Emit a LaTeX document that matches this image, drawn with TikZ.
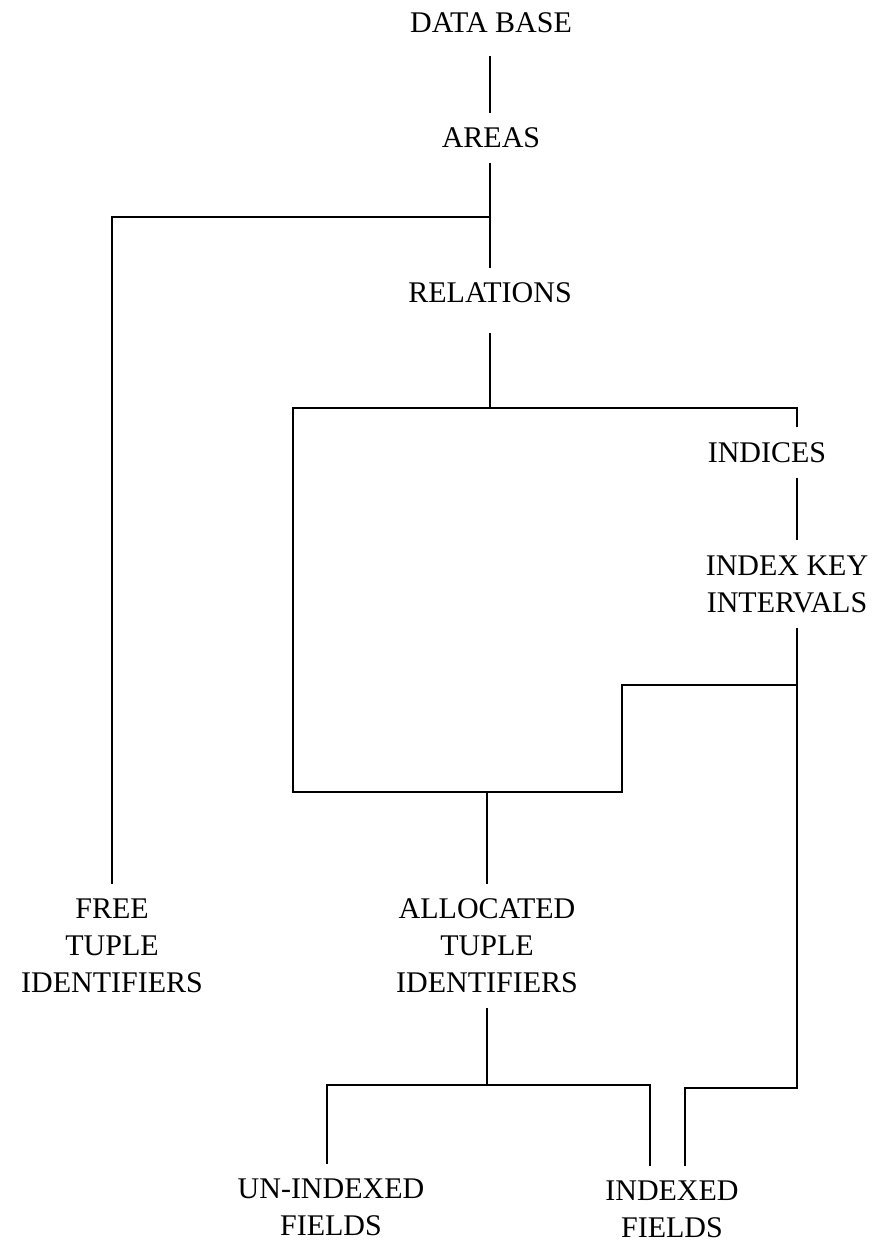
\documentclass[tikz,border=0pt]{standalone}
\usepackage{fontspec}
\setmainfont{Liberation Serif}
\usepackage{tikz}
\tikzset{lbl/.style={inner sep=0pt, outer sep=15pt, align=center, font=\fontsize{30}{37}\selectfont}}

\begin{document}
\begin{tikzpicture}[x=1pt,y=-1pt,line width=2pt]
  \useasboundingbox (0,0) rectangle (876,1243);
  \node[lbl] (DB) at (491,22.5) {DATA BASE};
  \node[lbl] (AR) at (491,138) {AREAS};
  \node[lbl] (RE) at (490,293) {RELATIONS};
  \node[lbl] (IN) at (767,452.5) {INDICES};
  \node[lbl] (IK) at (787,584) {INDEX KEY\\INTERVALS};
  \node[lbl] (FT) at (112,946) {FREE\\TUPLE\\IDENTIFIERS};
  \node[lbl] (AT) at (487,946) {ALLOCATED\\TUPLE\\IDENTIFIERS};
  \node[lbl] (UF) at (331,1207) {UN-INDEXED\\FIELDS};
  \node[lbl] (XF) at (672,1209) {INDEXED\\FIELDS};
  \coordinate (a) at (490,217);
  \coordinate (b) at (490,408);
  \coordinate (tl) at (293,408);
  \coordinate (tr) at (797,408);
  \coordinate (bl) at (293,792);
  \coordinate (s1) at (622,792);
  \coordinate (s2) at (622,685);
  \coordinate (s3) at (797,685);
  \coordinate (m) at (487,792);
  \coordinate (j) at (487,1085);
  \coordinate (u) at (327,1085);
  \coordinate (q) at (650,1085);
  \coordinate (r) at (797,1088);
  \coordinate (p) at (685,1088);
  \draw[shorten <=8pt] (DB.south -| a) -- (AR.north -| a);
  \draw (AR.south -| a) -- (RE.north -| a);
  \draw (a) -| (FT.north);
  \draw[shorten <=15pt] (RE.south -| b) -- (b);
  \draw (IN.north -| tr) -- (tr) -- (tl) -- (bl) -- (s1) -- (s2) -- (s3);
  \draw (IN.south -| tr) -- (IK.north -| tr);
  \draw (IK.south -| tr) -- (r) -- (p) -- (XF.north -| p);
  \draw (m) -- (AT.north -| m);
  \draw (AT.south -| m) -- (j);
  \draw (UF.north -| u) -- (u) -- (q) -- (XF.north -| q);
\end{tikzpicture}
\end{document}
